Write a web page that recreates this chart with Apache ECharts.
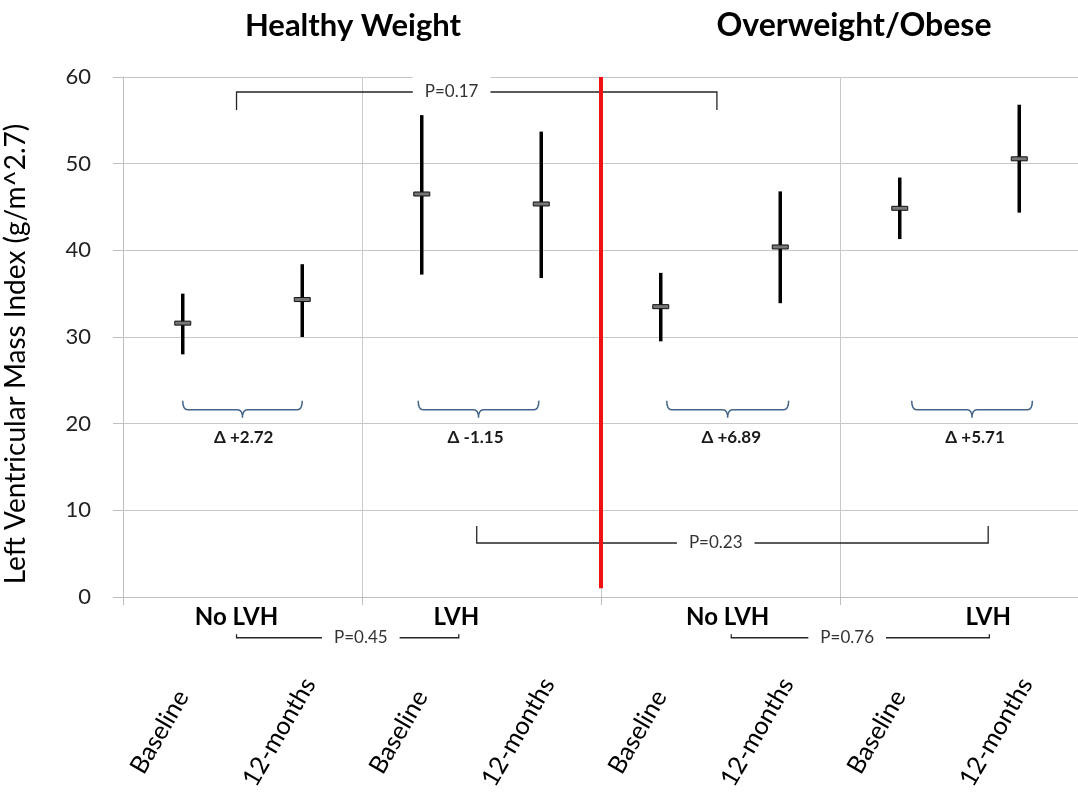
<!DOCTYPE html>
<html>
<head>
<meta charset="utf-8">
<script src="https://cdn.jsdelivr.net/npm/echarts@6/dist/echarts.min.js"></script>
<style>
  html, body { margin: 0; padding: 0; background: #fff; }
  #chart { width: 1078px; height: 797px; }
</style>
</head>
<body>
<div id="chart"></div>
<script>
// categories and error bar values (g/m^2.7)
var categories = ["Baseline", "12-months", "Baseline", "12-months", "Baseline", "12-months", "Baseline", "12-months"];
var meanValues = [31.6, 34.32, 46.5, 45.35, 33.5, 40.39, 44.85, 50.56];
var lowValues = [28.0, 30.0, 37.2, 36.8, 29.5, 33.9, 41.3, 44.35];
var highValues = [35.0, 38.4, 55.6, 53.7, 37.4, 46.8, 48.4, 56.8];

// group labels under the axis (x in category widths from the left edge)
var groupNames = ["No LVH", "LVH", "No LVH", "LVH"];
var groupNameX = [0.95, 2.79, 5.06, 7.24];
var groupNameY = -2.3;

// p-value brackets
var pLabels = ["P=0.17", "P=0.23", "P=0.45", "P=0.76"];
var pStartX = [0.95, 2.96, 0.95, 5.09];
var pEndX = [4.97, 7.24, 2.81, 7.25];
var pLineY = [58.27, 6.23, -4.7, -4.7];
var pLegY = [56.2, 8.2, -4.3, -4.3];
var pLabelX = [2.75, 4.96, 1.99, 6.06];

// change braces
var deltaLabels = ["\u0394 +2.72", "\u0394 -1.15", "\u0394 +6.89", "\u0394 +5.71"];
var braceStartX = [0.5, 2.47, 4.55, 6.60];
var braceEndX = [1.5, 3.48, 5.57, 7.61];
var braceY = 21.6;
var deltaLabelX = [1.01, 2.95, 5.09, 7.13];
var deltaLabelY = 18.45;

// panel divider
var dividerX = 4;
var dividerTop = 60;
var dividerBottom = 1.0;

var panelTitles = ["Healthy Weight", "Overweight/Obese"];

var FONT = "Lato, 'Open Sans', sans-serif";

var chart = echarts.init(document.getElementById("chart"));

var errorData = categories.map(function (c, i) {
  return [i, lowValues[i], highValues[i], meanValues[i]];
});
var labelData = categories.map(function (c, i) {
  return [i + 0.5, 0];
});
var pData = pLabels.map(function (l, i) {
  return [pStartX[i], pEndX[i], pLineY[i], pLegY[i], pLabelX[i]];
});
var braceData = deltaLabels.map(function (l, i) {
  return [braceStartX[i], braceEndX[i], deltaLabelX[i]];
});
var groupData = groupNames.map(function (g, i) {
  return [groupNameX[i], groupNameY];
});

function renderErrorBar(params, api) {
  var hi = api.coord([api.value(0), api.value(2)]);
  var lo = api.coord([api.value(0), api.value(1)]);
  var mid = api.coord([api.value(0), api.value(3)]);
  return {
    type: "group",
    children: [
      { type: "line", shape: { x1: hi[0], y1: hi[1], x2: lo[0], y2: lo[1] }, style: { stroke: "#000", lineWidth: 3.5 } },
      { type: "rect", shape: { x: mid[0] - 8, y: mid[1] - 2, width: 16, height: 4 }, style: { fill: "#777", stroke: "#111", lineWidth: 1 } }
    ]
  };
}

// rotated category labels
function renderCategoryLabel(params, api) {
  var p = api.coord([api.value(0), api.value(1)]);
  return {
    type: "text",
    x: p[0] - 23,
    y: p[1] + 135,
    rotation: Math.PI / 3,
    style: {
      text: categories[params.dataIndex], fill: "#000", fontSize: 25, fontFamily: FONT,
      align: "center", verticalAlign: "middle"
    }
  };
}

function renderPBracket(params, api) {
  var x0 = api.value(0), x1 = api.value(1), y = api.value(2), legY = api.value(3);
  var a = api.coord([x0, legY]), b = api.coord([x0, y]), c = api.coord([x1, y]), d = api.coord([x1, legY]);
  var lab = api.coord([api.value(4), y]);
  return {
    type: "group",
    children: [
      { type: "polyline", shape: { points: [a, b, c, d] }, style: { stroke: "#262626", lineWidth: 1.3, fill: null } },
      {
        type: "text", x: lab[0], y: lab[1],
        style: {
          text: pLabels[params.dataIndex], fill: "#333", fontSize: 17, fontFamily: FONT,
          align: "center", verticalAlign: "middle", backgroundColor: "#fff", padding: [7, 12]
        }
      }
    ]
  };
}

function renderBrace(params, api) {
  var s = api.coord([api.value(0), braceY]);
  var e = api.coord([api.value(1), braceY]);
  var mx = (s[0] + e[0]) / 2, y = s[1];
  var path = "M" + s[0] + "," + (y - 9) +
    " Q" + s[0] + "," + y + " " + (s[0] + 5) + "," + y +
    " L" + (mx - 5) + "," + y +
    " Q" + mx + "," + y + " " + mx + "," + (y + 8) +
    " Q" + mx + "," + y + " " + (mx + 5) + "," + y +
    " L" + (e[0] - 5) + "," + y +
    " Q" + e[0] + "," + y + " " + e[0] + "," + (y - 9);
  var lab = api.coord([api.value(2), deltaLabelY]);
  return {
    type: "group",
    children: [
      { type: "path", shape: { pathData: path }, style: { fill: null, stroke: "#44658a", lineWidth: 1.5 } },
      {
        type: "text", x: lab[0], y: lab[1],
        style: { text: deltaLabels[params.dataIndex], fill: "#1a1a1a", fontSize: 17, fontWeight: "bold", fontFamily: FONT, align: "center", verticalAlign: "middle" }
      }
    ]
  };
}

function renderGroupName(params, api) {
  var p = api.coord([api.value(0), api.value(1)]);
  return {
    type: "text", x: p[0], y: p[1],
    style: { text: groupNames[params.dataIndex], fill: "#000", fontSize: 24, fontWeight: "bold", fontFamily: FONT, align: "center", verticalAlign: "middle" }
  };
}

function renderDivider(params, api) {
  var t = api.coord([api.value(0), api.value(1)]);
  var b = api.coord([api.value(0), api.value(2)]);
  return { type: "line", shape: { x1: t[0], y1: t[1], x2: b[0], y2: b[1] }, style: { stroke: "#ee1111", lineWidth: 4 } };
}

var option = {
  animation: false,
  backgroundColor: "#fff",
  textStyle: { fontFamily: FONT },
  grid: { left: 123, right: -1, top: 77, bottom: 200, containLabel: false, outerBoundsMode: "none" },
  graphic: [
    { type: "text", x: 353, y: 26, style: { text: panelTitles[0], fill: "#000", fontSize: 31, fontWeight: "bold", fontFamily: FONT, align: "center", verticalAlign: "middle" } },
    { type: "text", x: 854, y: 26, style: { text: panelTitles[1], fill: "#000", fontSize: 32, fontWeight: "bold", fontFamily: FONT, align: "center", verticalAlign: "middle" } }
  ],
  xAxis: [
    {
      type: "category",
      data: categories,
      boundaryGap: true,
      axisLine: { lineStyle: { color: "#bfbfbf", width: 1 } },
      axisTick: { show: false },
      splitLine: { show: false },
      axisLabel: { show: false }
    },
    {
      // group boundaries: gridlines and ticks every two categories
      type: "value",
      min: 0,
      max: 8,
      interval: 2,
      position: "bottom",
      axisLine: { show: false },
      axisTick: { show: true, length: 8, lineStyle: { color: "#bfbfbf" } },
      splitLine: { show: true, lineStyle: { color: "#c8c8c8", width: 1 } },
      axisLabel: { show: false }
    }
  ],
  yAxis: {
    type: "value",
    min: 0,
    max: 60,
    interval: 10,
    name: "Left Ventricular Mass Index (g/m^2.7)",
    nameLocation: "middle",
    nameGap: 93,
    nameTextStyle: { fontSize: 28, fontFamily: FONT, color: "#000", padding: [0, 34, 0, 0] },
    axisLine: { show: true, lineStyle: { color: "#bfbfbf" } },
    axisTick: { show: true, length: 10, lineStyle: { color: "#bfbfbf" } },
    axisLabel: { fontSize: 22, fontFamily: FONT, color: "#222", margin: 32 },
    splitLine: { show: true, lineStyle: { color: "#c8c8c8", width: 1 } }
  },
  series: [
    { type: "custom", name: "LVMI", xAxisIndex: 0, yAxisIndex: 0, renderItem: renderErrorBar, data: errorData, clip: false, z: 5 },
    { type: "custom", name: "labels", xAxisIndex: 1, yAxisIndex: 0, renderItem: renderCategoryLabel, data: labelData, clip: false, z: 3 },
    { type: "custom", name: "p-values", xAxisIndex: 1, yAxisIndex: 0, renderItem: renderPBracket, data: pData, clip: false, z: 3 },
    { type: "custom", name: "deltas", xAxisIndex: 1, yAxisIndex: 0, renderItem: renderBrace, data: braceData, clip: false, z: 3 },
    { type: "custom", name: "groups", xAxisIndex: 1, yAxisIndex: 0, renderItem: renderGroupName, data: groupData, clip: false, z: 3 },
    { type: "custom", name: "divider", xAxisIndex: 1, yAxisIndex: 0, renderItem: renderDivider, data: [[dividerX, dividerTop, dividerBottom]], clip: false, z: 6 }
  ]
};

chart.setOption(option);
window.addEventListener("resize", function () {
  chart.resize();
});
</script>
</body>
</html>
